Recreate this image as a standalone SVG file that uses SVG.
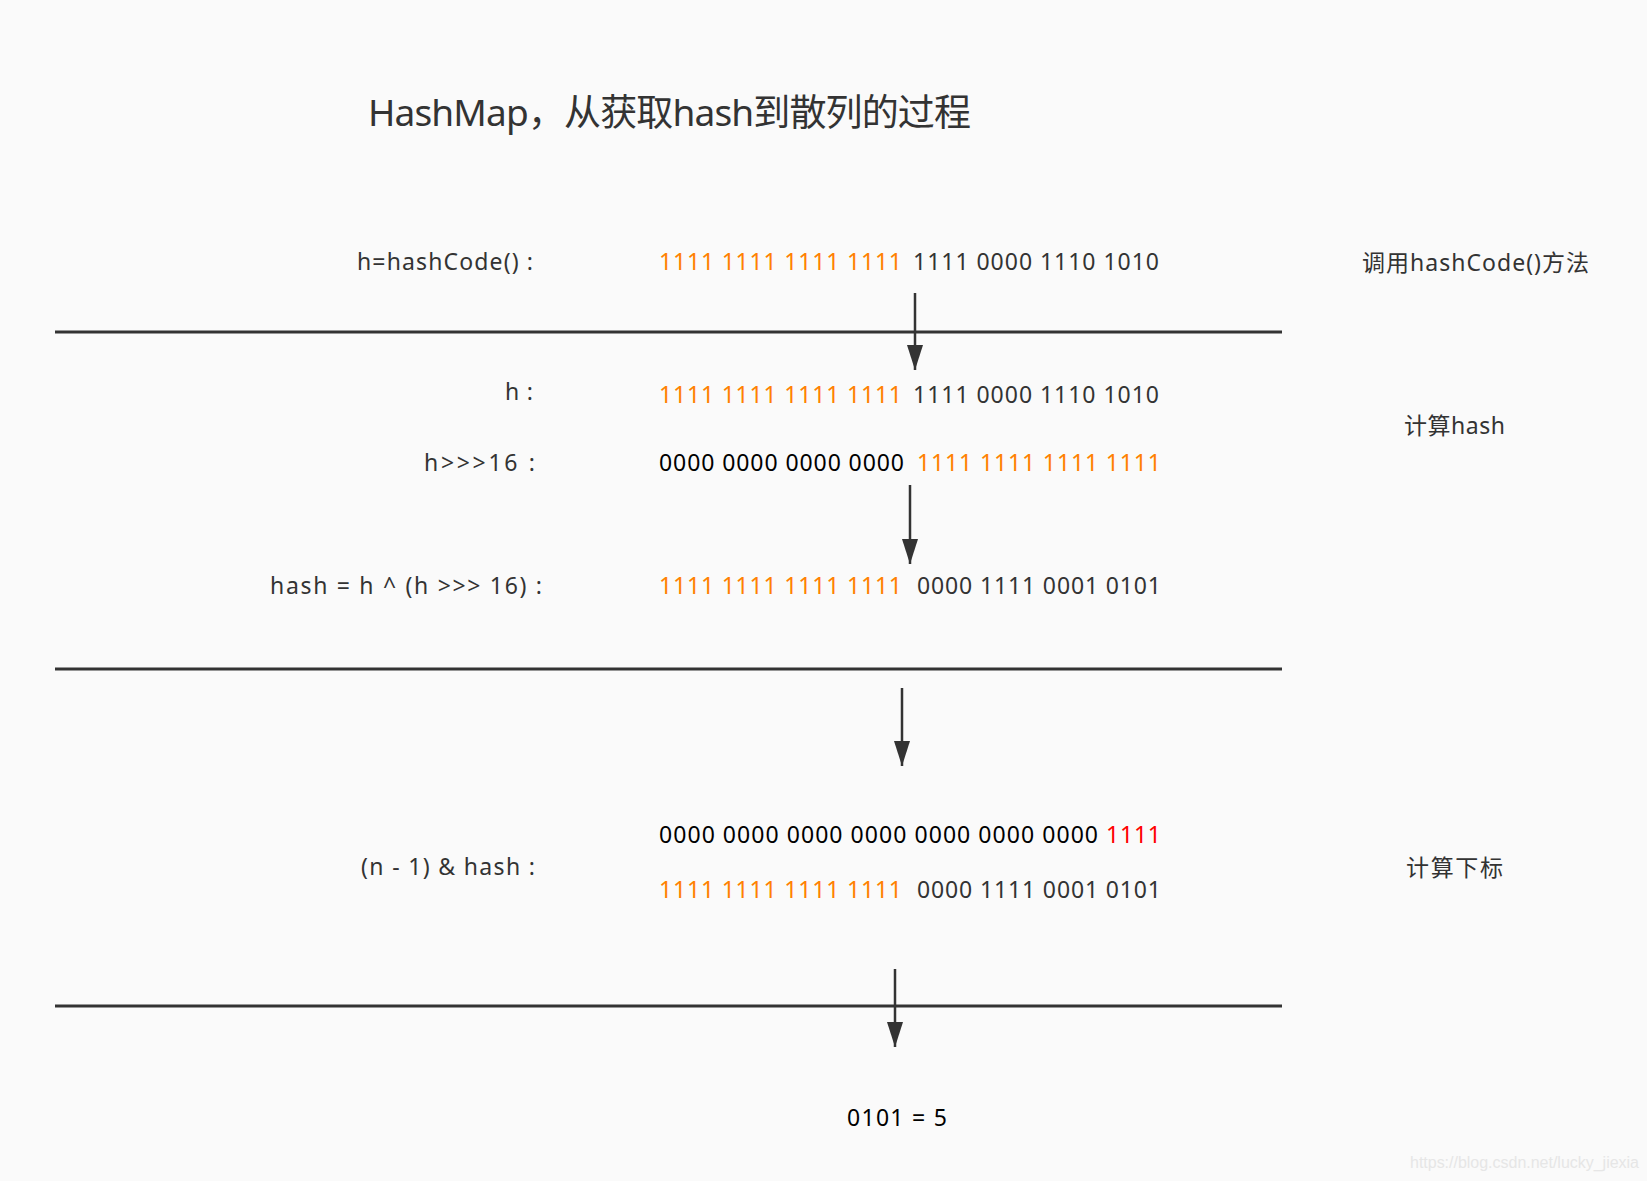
<svg xmlns="http://www.w3.org/2000/svg" width="1647" height="1181" viewBox="0 0 1647 1181">
<style>
text { font-family: "Noto Sans", "Noto Sans CJK SC", "DejaVu Sans", sans-serif; font-size: 23px; fill: #333333; }
.title { font-size: 37px; }
.or { fill: #ff8000; }
.bk { fill: #000000; }
.rd { fill: #ff0000; }
.sep { stroke: #333333; stroke-width: 3; }
.arr { stroke: #333333; stroke-width: 2.5; fill: none; }
.wm { font-family: "Liberation Sans", Arial, sans-serif; font-size: 16px; fill: #e6e6e6; }
</style>
<defs>
<marker id="ah" viewBox="0 0 25 16" refX="25" refY="8" markerWidth="25" markerHeight="16" markerUnits="userSpaceOnUse" orient="auto">
<path d="M0,0 L25,8 L0,16 z" fill="#333333"/>
</marker>
</defs>
<rect x="0" y="0" width="1647" height="1181" fill="#fafafa"/>

<g id="title"><text class="title" x="368" y="126" textLength="603">HashMap，从获取hash到散列的过程</text></g>

<g id="separators">
<line class="sep" x1="55" y1="332" x2="1282" y2="332"/>
<line class="sep" x1="55" y1="669" x2="1282" y2="669"/>
<line class="sep" x1="55" y1="1006" x2="1282" y2="1006"/>
</g>

<g id="row-hashcode">
<text x="357" y="270" textLength="176">h=hashCode() :</text>
<text class="or" x="659" y="270" textLength="243">1111 1111 1111 1111</text>
<text x="913" y="270" textLength="246">1111 0000 1110 1010</text>
</g>
<g id="step-hashcode"><text x="1362" y="271" textLength="227">调用hashCode()方法</text></g>

<g id="row-h">
<text x="505" y="400" textLength="28">h :</text>
<text class="or" x="659" y="403" textLength="243">1111 1111 1111 1111</text>
<text x="913" y="403" textLength="246">1111 0000 1110 1010</text>
</g>
<g id="row-shift">
<text x="424" y="471" textLength="111">h&gt;&gt;&gt;16 :</text>
<text class="bk" x="659" y="471" textLength="245">0000 0000 0000 0000</text>
<text class="or" x="917" y="471" textLength="244">1111 1111 1111 1111</text>
</g>
<g id="step-hash"><text x="1404" y="434" textLength="101">计算hash</text></g>

<g id="row-hash">
<text x="270" y="594" textLength="272">hash = h ^ (h &gt;&gt;&gt; 16) :</text>
<text class="or" x="659" y="594" textLength="243">1111 1111 1111 1111</text>
<text x="917" y="594" textLength="244">0000 1111 0001 0101</text>
</g>

<g id="row-index">
<text class="bk" x="659" y="843" textLength="439">0000 0000 0000 0000 0000 0000 0000</text>
<text class="rd" x="1106" y="843" textLength="55">1111</text>
<text x="361" y="875" textLength="174">(n - 1) &amp; hash :</text>
<text class="or" x="659" y="898" textLength="243">1111 1111 1111 1111</text>
<text x="917" y="898" textLength="244">0000 1111 0001 0101</text>
</g>
<g id="step-index"><text x="1406" y="876" textLength="97">计算下标</text></g>

<g id="result"><text class="bk" x="847" y="1126" textLength="100">0101 = 5</text></g>

<g id="connectors">
<line class="arr" x1="915" y1="293" x2="915" y2="370" marker-end="url(#ah)"/>
<line class="arr" x1="910" y1="485" x2="910" y2="564" marker-end="url(#ah)"/>
<line class="arr" x1="902" y1="688" x2="902" y2="766" marker-end="url(#ah)"/>
<line class="arr" x1="895" y1="969" x2="895" y2="1047" marker-end="url(#ah)"/>
</g>

<text class="wm" x="1410" y="1168" textLength="229">https://blog.csdn.net/lucky_jiexia</text>
</svg>
